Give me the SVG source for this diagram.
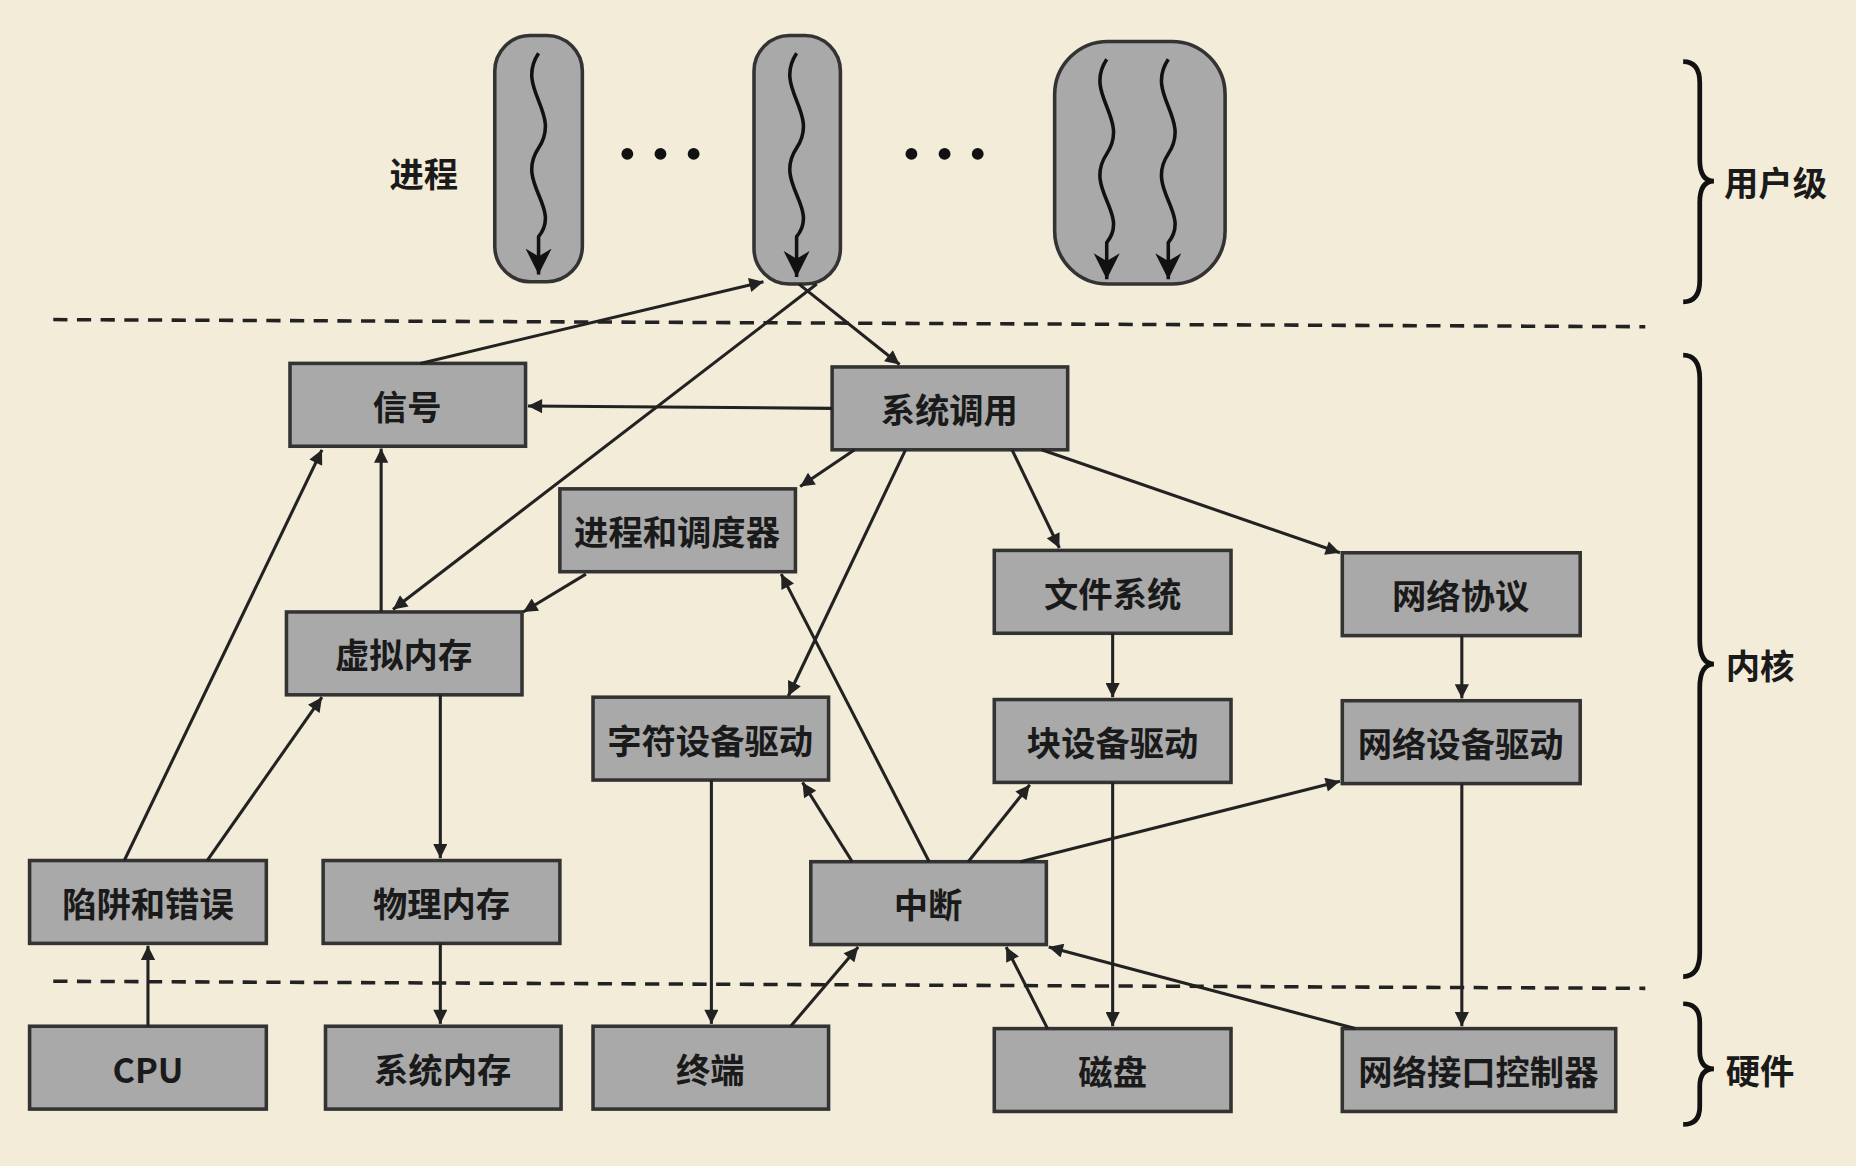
<svg xmlns="http://www.w3.org/2000/svg" width="1856" height="1166" viewBox="0 0 1856 1166">
<defs>
<marker id="a" viewBox="0 0 10 10" refX="10" refY="5" markerWidth="13" markerHeight="12" markerUnits="userSpaceOnUse" orient="auto"><path d="M0,0 L10,5 L0,10 z" fill="#222"/></marker>
<marker id="b" viewBox="0 0 10 10" refX="10" refY="5" markerWidth="22" markerHeight="24" markerUnits="userSpaceOnUse" orient="auto"><path d="M0,0 L10,5 L0,10 L3,5 z" fill="#111"/></marker>
<style>
.n rect{fill:#a9a9a9;stroke:#333;stroke-width:3}
.n text,.t{font-family:"Noto Sans CJK SC","Liberation Serif",sans-serif;font-size:29px;font-weight:bold;fill:#1a1a1a;text-anchor:middle;dominant-baseline:central}
.c line{stroke:#222;stroke-width:2.6;marker-end:url(#a)}
.p{fill:#a9a9a9;stroke:#333;stroke-width:3}
.w{fill:none;stroke:#111;stroke-width:3;marker-end:url(#b)}
.d{stroke:#222;stroke-width:3;stroke-dasharray:12,8}
.br{fill:none;stroke:#111;stroke-width:4}
</style>
</defs>
<rect width="1856" height="1166" fill="#f3ecd9"/>
<g transform="scale(1.18367)">
<line class="d" x1="45" y1="270" x2="1390" y2="276"/>
<line class="d" x1="45" y1="829" x2="1390" y2="835"/>
<g id="proc1"><rect class="p" x="418" y="30" width="74" height="208" rx="30"/><path class="w" d="M455,45 C435,75 475,95 455,125 C435,155 475,175 455,200 L455,232"/></g>
<g id="proc2"><rect class="p" x="637" y="30" width="73" height="210" rx="30"/><path class="w" d="M673,45 C653,75 693,95 673,125 C653,155 693,175 673,200 L673,234"/></g>
<g id="proc3"><rect class="p" x="891" y="35" width="144" height="205" rx="45"/><path class="w" d="M935,50 C915,80 955,100 935,130 C915,160 955,180 935,205 L935,236"/><path class="w" d="M987,50 C967,80 1007,100 987,130 C967,160 1007,180 987,205 L987,236"/></g>
<text class="t" x="358" y="145">进程</text>
<g fill="#111"><circle cx="530" cy="130" r="5"/><circle cx="558" cy="130" r="5"/><circle cx="586" cy="130" r="5"/><circle cx="770" cy="130" r="5"/><circle cx="798" cy="130" r="5"/><circle cx="826" cy="130" r="5"/></g>
<g id="n1" class="n"><rect x="245" y="307" width="199" height="70"/><text x="344" y="342">信号</text></g>
<g id="n2" class="n"><rect x="703" y="310" width="199" height="70"/><text x="802" y="345">系统调用</text></g>
<g id="n3" class="n"><rect x="473" y="413" width="199" height="70"/><text x="572" y="448">进程和调度器</text></g>
<g id="n4" class="n"><rect x="840" y="465" width="200" height="70"/><text x="940" y="500">文件系统</text></g>
<g id="n5" class="n"><rect x="1134" y="467" width="201" height="70"/><text x="1234" y="502">网络协议</text></g>
<g id="n6" class="n"><rect x="242" y="517" width="199" height="70"/><text x="341" y="552">虚拟内存</text></g>
<g id="n7" class="n"><rect x="501" y="589" width="199" height="70"/><text x="600" y="624">字符设备驱动</text></g>
<g id="n8" class="n"><rect x="840" y="591" width="200" height="70"/><text x="940" y="626">块设备驱动</text></g>
<g id="n9" class="n"><rect x="1134" y="592" width="201" height="70"/><text x="1234" y="627">网络设备驱动</text></g>
<g id="n10" class="n"><rect x="25" y="727" width="200" height="70"/><text x="125" y="762">陷阱和错误</text></g>
<g id="n11" class="n"><rect x="273" y="727" width="200" height="70"/><text x="373" y="762">物理内存</text></g>
<g id="n12" class="n"><rect x="685" y="728" width="199" height="70"/><text x="784" y="763">中断</text></g>
<g id="n13" class="n"><rect x="25" y="867" width="200" height="70"/><text x="125" y="902">CPU</text></g>
<g id="n14" class="n"><rect x="275" y="867" width="199" height="70"/><text x="374" y="902">系统内存</text></g>
<g id="n15" class="n"><rect x="501" y="867" width="199" height="70"/><text x="600" y="902">终端</text></g>
<g id="n16" class="n"><rect x="840" y="869" width="200" height="70"/><text x="940" y="904">磁盘</text></g>
<g id="n17" class="n"><rect x="1134" y="869" width="231" height="70"/><text x="1249" y="904">网络接口控制器</text></g>
<g id="connectors" class="c">
<line x1="355" y1="307" x2="645" y2="238"/>
<line x1="675" y1="240" x2="760" y2="308"/>
<line x1="690" y1="240" x2="332" y2="515"/>
<line x1="703" y1="345" x2="446" y2="343"/>
<line x1="722" y1="380" x2="676" y2="411"/>
<line x1="765" y1="380" x2="666" y2="588"/>
<line x1="855" y1="380" x2="895" y2="463"/>
<line x1="880" y1="380" x2="1132" y2="467"/>
<line x1="495" y1="485" x2="442" y2="517"/>
<line x1="322" y1="517" x2="322" y2="379"/>
<line x1="105" y1="727" x2="272" y2="380"/>
<line x1="175" y1="727" x2="272" y2="589"/>
<line x1="372" y1="587" x2="372" y2="725"/>
<line x1="372" y1="797" x2="372" y2="865"/>
<line x1="125" y1="867" x2="125" y2="799"/>
<line x1="785" y1="728" x2="660" y2="485"/>
<line x1="720" y1="728" x2="678" y2="661"/>
<line x1="818" y1="728" x2="870" y2="663"/>
<line x1="862" y1="728" x2="1132" y2="660"/>
<line x1="601" y1="659" x2="601" y2="865"/>
<line x1="668" y1="867" x2="725" y2="800"/>
<line x1="940" y1="535" x2="940" y2="589"/>
<line x1="940" y1="661" x2="940" y2="867"/>
<line x1="885" y1="869" x2="850" y2="800"/>
<line x1="1235" y1="537" x2="1235" y2="590"/>
<line x1="1235" y1="662" x2="1235" y2="867"/>
<line x1="1145" y1="869" x2="886" y2="800"/>
</g>
<path class="br" d="M1422,52 Q1436,52 1436,70 L1436,135 Q1436,153 1448,153 Q1436,153 1436,171 L1436,237 Q1436,255 1422,255"/>
<path class="br" d="M1422,300 Q1436,300 1436,320 L1436,541 Q1436,561 1448,561 Q1436,561 1436,581 L1436,805 Q1436,825 1422,825"/>
<path class="br" d="M1422,848 Q1436,848 1436,864 L1436,888 Q1436,903 1448,903 Q1436,903 1436,918 L1436,935 Q1436,950 1422,950"/>
<text class="t" x="1500" y="153">用户级</text>
<text class="t" x="1487" y="561">内核</text>
<text class="t" x="1487" y="903">硬件</text>
</g>
</svg>
